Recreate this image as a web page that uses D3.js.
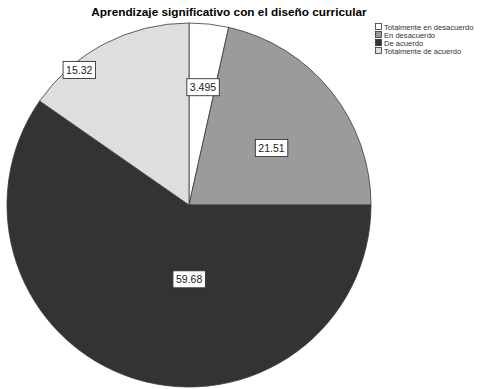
<!DOCTYPE html>
<html>
<head>
<meta charset="utf-8">
<script src="https://cdn.jsdelivr.net/npm/d3@7"></script>
<style>
  html, body { margin: 0; padding: 0; background: #fff; }
  svg { display: block; }
</style>
</head>
<body>
<svg id="chart" width="487" height="389"></svg>
<script>
const title = "Aprendizaje significativo con el diseño curricular";
const categories = ["Totalmente en desacuerdo", "En desacuerdo", "De acuerdo", "Totalmente de acuerdo"];
const values = [3.495, 21.51, 59.68, 15.32];
const valueLabels = ["3.495", "21.51", "59.68", "15.32"];
const colors = ["#ffffff", "#9b9b9b", "#333333", "#dedede"];

const svg = d3.select("#chart");
const cx = 189, cy = 205, R = 182;

svg.append("text")
  .attr("x", 229).attr("y", 16)
  .attr("text-anchor", "middle")
  .attr("font-family", "Liberation Sans, Arial, sans-serif")
  .attr("font-weight", "bold")
  .attr("font-size", 11.8)
  .text(title);

const pie = d3.pie().sort(null).value(d => d.v);
const data = categories.map((c, i) => ({ c, v: values[i], lab: valueLabels[i], col: colors[i] }));
const arcs = pie(data);
const arc = d3.arc().innerRadius(0).outerRadius(R);

const g = svg.append("g").attr("transform", `translate(${cx},${cy})`);
g.selectAll("path").data(arcs).enter().append("path")
  .attr("d", arc)
  .attr("fill", d => d.data.col)
  .attr("stroke", "#3a3a3a")
  .attr("stroke-width", 0.8);

// label placement (layout): radius fraction and angle nudge (degrees) per slice
const labelLayout = [
  { rf: 0.65, da: 0.5 },
  { rf: 0.55, da: 4.2 },
  { rf: 0.41, da: -17.5 },
  { rf: 0.955, da: -11.6 }
];

arcs.forEach((d, i) => {
  const a = (d.startAngle + d.endAngle) / 2 + labelLayout[i].da * Math.PI / 180;
  const r = R * labelLayout[i].rf;
  const x = r * Math.sin(a), y = -r * Math.cos(a);
  const lg = g.append("g").attr("transform", `translate(${x},${y})`);
  const t = lg.append("text")
    .attr("text-anchor", "middle")
    .attr("dy", "0.35em")
    .attr("font-family", "Liberation Sans, Arial, sans-serif")
    .attr("font-size", 10.5)
    .attr("fill", "#222")
    .text(d.data.lab);
  const bb = t.node().getBBox();
  lg.insert("rect", "text")
    .attr("x", bb.x - 3).attr("y", bb.y - 2.5)
    .attr("width", bb.width + 6).attr("height", bb.height + 5)
    .attr("fill", "#fff")
    .attr("stroke", "#333")
    .attr("stroke-width", 0.9);
});

// legend
const leg = svg.append("g").attr("transform", "translate(375,23)");
data.forEach((d, i) => {
  const row = leg.append("g").attr("transform", `translate(0,${i * 8})`);
  row.append("rect")
    .attr("x", 0.5).attr("y", 0.5).attr("width", 6).attr("height", 6)
    .attr("fill", d.col).attr("stroke", "#333").attr("stroke-width", 0.8);
  row.append("text")
    .attr("x", 9).attr("y", 6.5)
    .attr("font-family", "Liberation Sans, Arial, sans-serif")
    .attr("font-size", 7.6)
    .attr("fill", "#333")
    .text(d.c);
});
</script>
</body>
</html>
